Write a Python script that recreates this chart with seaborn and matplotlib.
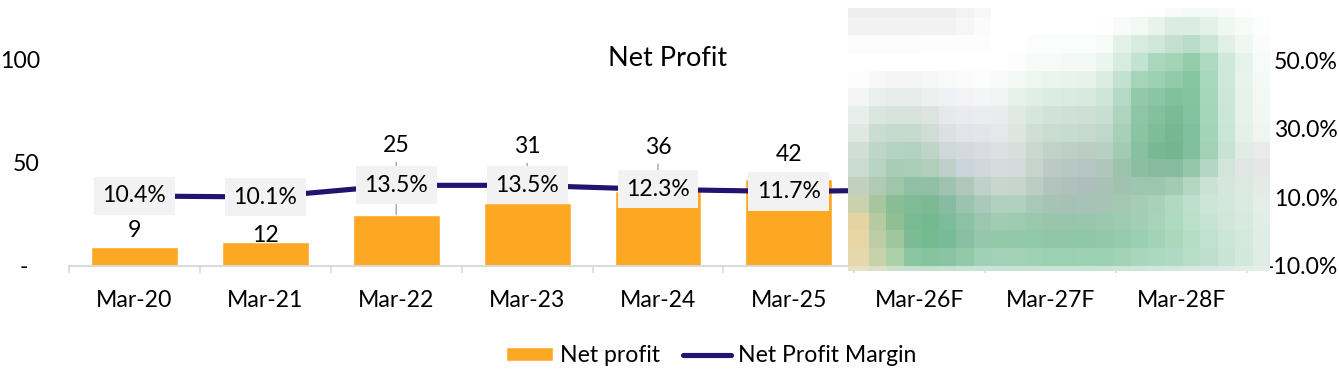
import numpy as np
import matplotlib
matplotlib.use('Agg')
import matplotlib.pyplot as plt
from matplotlib.colors import to_rgb
from matplotlib.ticker import FixedLocator
import seaborn as sns

# data, forecast years are hidden behind the mosaic
periods = ['Mar-20', 'Mar-21', 'Mar-22', 'Mar-23', 'Mar-24', 'Mar-25', 'Mar-26F', 'Mar-27F', 'Mar-28F']
net_profit = [9.4, 11.8, 24.8, 30.6, 36.0, 42.0, np.nan, np.nan, np.nan]
margin = [10.4, 10.1, 13.5, 13.5, 12.3, 11.7, 12.2, np.nan, np.nan]
left_ticks = [0, 50, 100]
left_tick_labels = ['-  ', '50', '100']
right_ticks = [-10, 10, 30, 50]
right_tick_labels = ['-10.0%', '10.0%', '30.0%', '50.0%']
# pixel offset of each bar label above the bar top (Excel labels were dragged by hand)
label_offsets = [16, 6, 69, 56, 44, 25]
leader_lines = [False, False, True, True, True, False]

# mosaic patch over the forecast years, one row of cell colours per line
mosaic_rows = [
    'eee eee eee eee eee eee f3f3f3 f8f8f8 fff fff fff fff fff fff fff fff fff fdfefd f8fbf9 f6faf7 f6faf7 f8fbf9 fdfefd fff',
    'f2f2f2 f2f2f2 f2f2f2 f2f2f2 f2f2f2 f2f2f2 f6f6f6 fbfbfb fff fff fff fff fff fff fdfefd f8fbf9 f2f8f4 e8f3ec dbece2 dbece2 e2f1e9 eef7f2 f6fbf8 fcfefd',
    'fcfcfc fcfcfc fcfcfc fcfcfc fdfdfd fdfdfd fdfdfd fdfdfd fff fff fbfdfc fbfdfc fbfdfc fbfdfc f7fbf8 e3f1e8 d8ebdf cfe6d8 c3e0cf b8dcc8 c8e5d5 e0f0e7 eff7f3 f9fcfa',
    'fff fff fff fff fff fff fff fff fff fcfefd f6fbf8 f6fbf8 f3f9f5 f3f9f5 ebf5ef d7ebdf c3e2d0 a9d7bb a3d4b6 93ccab acd9c0 cee8da e6f3ec f5fbf8',
    'fdfdfd f7f9f8 f3f6f5 f3f6f5 f6f8f7 f8f9f9 fafbfb fbfcfc f9fbfa f3f9f5 eef6f1 eaf4ee e8f3ec e6f2ea dbece1 c2e1cf a5d5b8 9bd0b0 91cba9 85c6a0 a8d8bc cde8d9 e7f3ed f4f9f6',
    'f3f6f5 e9efec e6ece9 e6ecea ecf0ef f0f1f4 f3f3f6 f4f5f7 f0f4f3 e6f1ea e0efe6 ddece3 dbeae1 d8e9df cfe5d8 b6d9c5 93c9a9 8bc5a3 83c09c 84c5a0 a6d7bb cce7d8 e6f2ec f3f8f5',
    'e8eeec d9e5df d6e3dc d6e2dc dde3e1 e6e8ec eaebef ebecf0 e9ecec e0e9e4 d5e6dc d1e2d8 cfe1d7 cce0d5 c6dfd0 aed4be 8ec6a5 85c09e 7bbb96 83c4a0 a5d6ba cbe6d7 e5f1eb f2f7f4',
    'dfe8e3 cbdcd3 c7dacf c7dace d0dcd5 dde0e3 e3e4e9 e4e5ea e5e7ea dde5e1 cfdfd6 c9dcd0 c8dbd0 c6d9ce bfd8c9 a7d0b8 8bc4a3 7fbd99 76b892 7fc09c a3d4b8 c9e5d5 e4f0ea f0f5f2',
    'cfdfd6 bdd6c8 b5d3c1 b3d1bf bdd4c6 ced8d6 d5d9de d9dce1 dce0e2 d6dfdb c9d7cf c1d2c8 bdcfc6 bacdc3 b6d0c1 a3cbb3 88c1a0 78b893 75b691 81be9b a2d2b6 c8e3d4 e2ece7 e9eaea',
    'cadbd1 b9d3c4 a8cdb6 a9cdb7 b0ceba becfc9 cbd3db d1d8dd d6dcde d3dbda c7d3cd bbcac4 b7c7c3 b4c5c2 b0c6bd 9dc3ae 8cbea2 87ba9e 87bb9f 97c7ab b3d7c2 d2e5da e0e6e3 e6e6e6',
    'c2d1bf afcbb5 9fc5aa 91bfa6 91bfa5 a0c3b1 b0c8bc c0d1ca c7d7d0 c6d6ce bccdc4 b3c4bf afc0bd adbfbc a9c1b6 a0c3af 9ec5af 9dc6ae a3cbb4 b5d7c2 c9e2d3 d5e7dc dce8e2 e4ebe7',
    'c9d1ae a8c69e 8abc96 7fbb96 7dba94 88bca1 9bc4b0 aac9ba b1d0bf b1d1bf a9c9b8 a6c3b5 a6c1b6 a7c2b7 a6c3b6 a3c7b2 a5cdb5 a9d1ba b1d8c1 bfdfcc cbe6d6 d3e8dc dae9e1 e3eee8',
    'e5d4a2 b6c9a0 8fbf93 78bb92 74ba91 7bbc9a 8dc1a6 9cc7ae 9fccb3 9dcbb1 99c8ad 98c5ac 99c5ad 99c6ad 9bc8af 9ccbb1 a1ceb5 a6d3ba aedabf bcdfca c6e3d2 cfe6d9 d8e9df e1eee7',
    'e6d6a6 bccca6 a0c79c 7cbc94 75bb92 77bb99 88bfa2 96c7aa 92c9a9 91c9a8 90c9a7 90c8a7 8fc8a7 8fc8a7 91c9a9 95cbac 9ccfb2 a2d3b7 abd7bd b5dcc5 c1e1cf cbe5d6 d4e8dc dfede5',
    'e4d8ac c8d2aa abcfa8 8bc6a2 85c49f 88c4a3 92c9a9 a0d0b5 a1d2b7 a1d2b6 9fd1b5 9ad1b0 9bd1b1 9cd1b1 9dd1b3 a2d3b7 a8d6bc acd8c0 b0d9c3 b7dcc8 bedfcd c9e4d5 d3e8dc dfece5',
    'e6e2c8 dbe0c8 cfe0cb c5e0cf c3e0ce c5e0d0 c8e2d3 c9e3d5 c9e3d5 c9e3d5 c9e3d5 c9e3d5 c9e3d5 c9e3d5 cbe4d6 cde5d8 cfe6da d1e7db d4e8dd d7e9df daeae2 deebe4 e1ede6 e5efe9',
]

# ========== style ==========
C_BAR = '#FCA823'
C_LINE = '#241170'
C_AXIS = '#D9D9D9'
C_BOX = '#F2F2F2'
C_LEADER = '#A6A6A6'
W, H = 1339, 372

sns.set_theme(style='white')
plt.rcParams['font.family'] = ['Lato', 'DejaVu Sans']
plt.rcParams['text.color'] = 'black'
FS = 16.6

fig = plt.figure(figsize=(W / 100, H / 100), dpi=100)
ax = fig.add_axes([69 / W, 1 - 266 / H, (1247 - 69) / W, (266 - 59) / H])

x_pos = np.arange(len(periods))
sns.barplot(x=x_pos, y=net_profit, color=C_BAR, width=0.664, saturation=1, ax=ax, label='Net profit', zorder=2)
ax.set_xlim(-0.5, len(periods) - 0.5)
ax.set_ylim(0, 100)

ax.set_xticks(x_pos)
ax.set_xticklabels(periods, fontsize=FS)
ax.xaxis.set_minor_locator(FixedLocator(np.arange(len(periods) + 1) - 0.5))
ax.tick_params(axis='x', which='major', length=0, pad=17, colors='black')
ax.tick_params(axis='x', which='minor', bottom=True, length=5, width=1.2, color=C_AXIS)
ax.set_yticks(left_ticks)
ax.set_yticklabels(left_tick_labels, fontsize=FS)
ax.tick_params(axis='y', length=0, pad=21, colors='black')
for s in ['top', 'left', 'right']:
    ax.spines[s].set_visible(False)
ax.spines['bottom'].set_color(C_AXIS)
ax.spines['bottom'].set_linewidth(1.4)

# line on the right axis
ax2 = ax.twinx()
sns.lineplot(x=x_pos, y=margin, color=C_LINE, linewidth=3.7, ax=ax2, label='Net Profit Margin', legend=False,
             solid_capstyle='round', errorbar=None)
ax2.set_ylim(-10, 50.3)
ax2.set_yticks(right_ticks)
ax2.set_yticklabels(right_tick_labels, fontsize=FS, ha='right')
ax2.tick_params(axis='y', length=0, pad=65.5, colors='black')
for s in ax2.spines.values():
    s.set_visible(False)

# bar labels, some with leader lines
for i, (v, off, lead) in enumerate(zip(net_profit[:6], label_offsets, leader_lines)):
    arrow = dict(arrowstyle='-', color=C_LEADER, lw=1.0, shrinkA=2, shrinkB=0) if lead else None
    ax.annotate(f'{round(v)}', xy=(i, v), xytext=(0, off * 0.72), textcoords='offset points',
                ha='center', va='center', fontsize=FS, color='black', arrowprops=arrow, zorder=3)

# margin labels in grey boxes
for i, m in enumerate(margin[:6]):
    ax2.text(i, m, f'{m:.1f}%', ha='center', va='center', fontsize=FS, color='black', zorder=5,
             bbox=dict(boxstyle='square,pad=0.37', facecolor=C_BOX, edgecolor='none'))

fig.text(668 / W, 1 - 58 / H, 'Net Profit', ha='center', va='center', fontsize=19.5, color='black')

# legend
h1 = ax.patches[0]
h2 = ax2.get_lines()[0]
fig.legend([h1, h2], ['Net profit', 'Net Profit Margin'], loc='center', bbox_to_anchor=(711 / W, 1 - 356 / H),
           ncol=2, frameon=False, fontsize=FS, handlelength=2.05, handleheight=0.55, handletextpad=0.3,
           columnspacing=1.0, borderpad=0, borderaxespad=0)

# mosaic patch, drawn in pixel space over the forecast years
colors = np.array([[to_rgb('#' + c) for c in row.split()] for row in mosaic_rows])
x_edges = np.r_[848, np.linspace(869, 1270, 24)]
y_edges = np.r_[8, np.linspace(17.3, 266, 15), 270.5]
ax_m = fig.add_axes([0, 0, 1, 1], zorder=10)
ax_m.set_xlim(0, W)
ax_m.set_ylim(H, 0)
ax_m.axis('off')
ax_m.pcolormesh(x_edges, y_edges, colors, shading='flat', linewidth=0, antialiased=False)

fig.savefig('out.png', dpi=100)
